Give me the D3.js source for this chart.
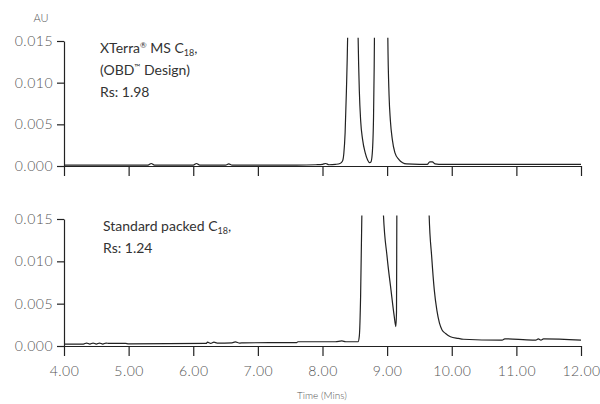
<!DOCTYPE html>
<html><head><meta charset="utf-8">
<script src="https://cdn.jsdelivr.net/npm/d3@7"></script>
<style>
body{margin:0;background:#fff;}
svg{display:block;}
text{font-family:"Lato","Open Sans",sans-serif;}
</style></head>
<body><svg id="c" width="600" height="404"></svg>
<script>
// ---- data ----
const xTicks = [4,5,6,7,8,9,10,11,12];
const xTickLabels = ["4.00","5.00","6.00","7.00","8.00","9.00","10.00","11.00","12.00"];
const yTicks = [0,0.005,0.010,0.015];
const yTickLabels = ["0.000","0.005","0.010","0.015"];

// XTerra MS C18 (OBD Design), Rs 1.98  [time (min), absorbance (AU)]
const xterraTime = [4.00,4.60,5.30,5.35,5.40,6.00,6.05,6.10,6.50,6.55,6.60,7.30,7.60,7.90,8.00,8.05,8.10,8.20,8.27,8.31,8.33,8.35,8.37,8.39,8.41,8.47,8.53,8.55,8.57,8.59,8.62,8.66,8.70,8.73,8.75,8.77,8.79,8.80,8.82,8.90,9.00,9.01,9.03,9.05,9.08,9.12,9.18,9.24,9.30,9.50,9.62,9.66,9.70,9.74,9.80,10.00,12.00];
const xterraAU   = [0.0001,0.0001,0.0001,0.0003,0.0001,0.0001,0.0003,0.0001,0.0001,0.00025,0.0001,0.0001,0.0001,0.00015,0.0002,0.0003,0.00015,0.0002,0.0003,0.0006,0.0015,0.004,0.009,0.016,0.030,0.045,0.030,0.016,0.009,0.0055,0.0032,0.0016,0.0007,0.0004,0.0005,0.0015,0.006,0.012,0.030,0.050,0.030,0.016,0.0085,0.0055,0.0032,0.0016,0.0008,0.0004,0.00025,0.0002,0.0002,0.0005,0.0005,0.00025,0.0002,0.0002,0.0002];

// Standard packed C18, Rs 1.24
const stdTime = [4.00,4.30,4.35,4.40,4.45,4.50,4.55,4.60,4.65,4.70,4.95,5.00,6.20,6.22,6.27,6.32,6.37,6.60,6.65,6.72,6.78,7.60,7.62,8.20,8.30,8.36,8.42,8.55,8.57,8.59,8.61,8.63,8.75,8.90,8.94,9.00,9.06,9.11,9.135,9.145,9.15,9.16,9.40,9.61,9.65,9.69,9.73,9.77,9.81,9.85,9.90,9.98,10.10,10.18,10.75,10.78,10.82,11.25,11.30,11.34,11.38,11.42,12.00];
const stdAU      = [0.00022,0.00022,0.00035,0.00022,0.00035,0.00022,0.00035,0.00022,0.00035,0.0003,0.0003,0.00025,0.0003,0.00045,0.0003,0.00045,0.00035,0.00038,0.00048,0.00035,0.00038,0.0004,0.0005,0.0005,0.0006,0.0005,0.0005,0.0005,0.0012,0.006,0.016,0.030,0.050,0.030,0.016,0.0105,0.0066,0.0035,0.0023,0.004,0.015,0.030,0.050,0.030,0.0155,0.0105,0.0066,0.0042,0.0027,0.0019,0.0015,0.0011,0.0009,0.0008,0.0007,0.0007,0.00085,0.0007,0.0007,0.00085,0.0007,0.00085,0.0007,0.0007];

// ---- layout ----
const svg = d3.select("#c");
const x = d3.scaleLinear().domain([4,12]).range([64,581]);
const panels = [
  {time: xterraTime, au: xterraAU, y0:166, y1:41, labels:false,
   text:[["XTerra",{sup:"®"}," MS C",{sub:"18"},","],["(OBD",{sup:"™"}," Design)"],["Rs: 1.98"]], tx:100, ty:[53,75,97]},
  {time: stdTime, au: stdAU, y0:346, y1:219, labels:true,
   text:[["Standard packed C",{sub:"18"},","],["Rs: 1.24"]], tx:103, ty:[231,253]}
];

const ink = "#222", grey = "#555";
const tickFont = g => g.attr("fill",grey).style("font-size","14px").style("letter-spacing","0.5px").attr("font-weight",300);

panels.forEach((p,i)=>{
  const y = d3.scaleLinear().domain([0,0.015]).range([p.y0,p.y1]);
  const g = svg.append("g");
  const cid = "clip"+i;
  svg.append("clipPath").attr("id",cid).append("rect")
    .attr("x",x(4)).attr("y",y(0.0154)).attr("width",x(12)-x(4)).attr("height",p.y0-y(0.0154)+20);

  // y axis
  const ya = g.append("g").attr("transform",`translate(${x(4)},0)`)
    .call(d3.axisLeft(y).tickValues(yTicks).tickFormat((d,j)=>yTickLabels[j]).tickSize(7).tickPadding(4).tickSizeOuter(0));
  ya.select(".domain").attr("stroke",ink).attr("stroke-width",1.2);
  ya.selectAll(".tick line").attr("stroke",ink).attr("stroke-width",1.2);
  ya.selectAll(".tick text").call(tickFont);

  // x axis
  const xa = g.append("g").attr("transform",`translate(0,${p.y0})`)
    .call(d3.axisBottom(x).tickValues(xTicks).tickFormat((d,j)=>p.labels?xTickLabels[j]:"").tickSize(10).tickPadding(10).tickSizeOuter(0));
  xa.select(".domain").attr("stroke",ink).attr("stroke-width",1.2);
  xa.selectAll(".tick line").attr("stroke",ink).attr("stroke-width",1.2);
  xa.selectAll(".tick text").call(tickFont);

  // trace
  const pts = p.time.map((t,j)=>[t,p.au[j]]);
  g.append("path").datum(pts)
    .attr("clip-path",`url(#${cid})`)
    .attr("fill","none").attr("stroke",ink).attr("stroke-width",1.2).attr("stroke-linejoin","round")
    .attr("d", d3.line().x(d=>x(d[0])).y(d=>y(d[1])).curve(d3.curveMonotoneX));

  // annotation
  p.text.forEach((line,k)=>{
    const t = g.append("text").attr("x",p.tx).attr("y",p.ty[k]).attr("fill","#333").style("font-size","14px");
    line.forEach(s=>{
      if(typeof s==="string") t.append("tspan").text(s);
      else if(s.sub) t.append("tspan").attr("baseline-shift","-3").style("font-size","9px").text(s.sub);
      else if(s.sup) t.append("tspan").attr("baseline-shift","5").style("font-size","8px").text(s.sup);
    });
  });
});

svg.append("text").attr("x",41).attr("y",22).attr("text-anchor","middle").attr("fill",grey)
  .style("font-size","11px").attr("font-weight",300).text("AU");
svg.append("text").attr("x",322).attr("y",399).attr("text-anchor","middle").attr("fill",grey)
  .style("font-size","10px").attr("font-weight",300).text("Time (Mins)");
</script></body></html>
